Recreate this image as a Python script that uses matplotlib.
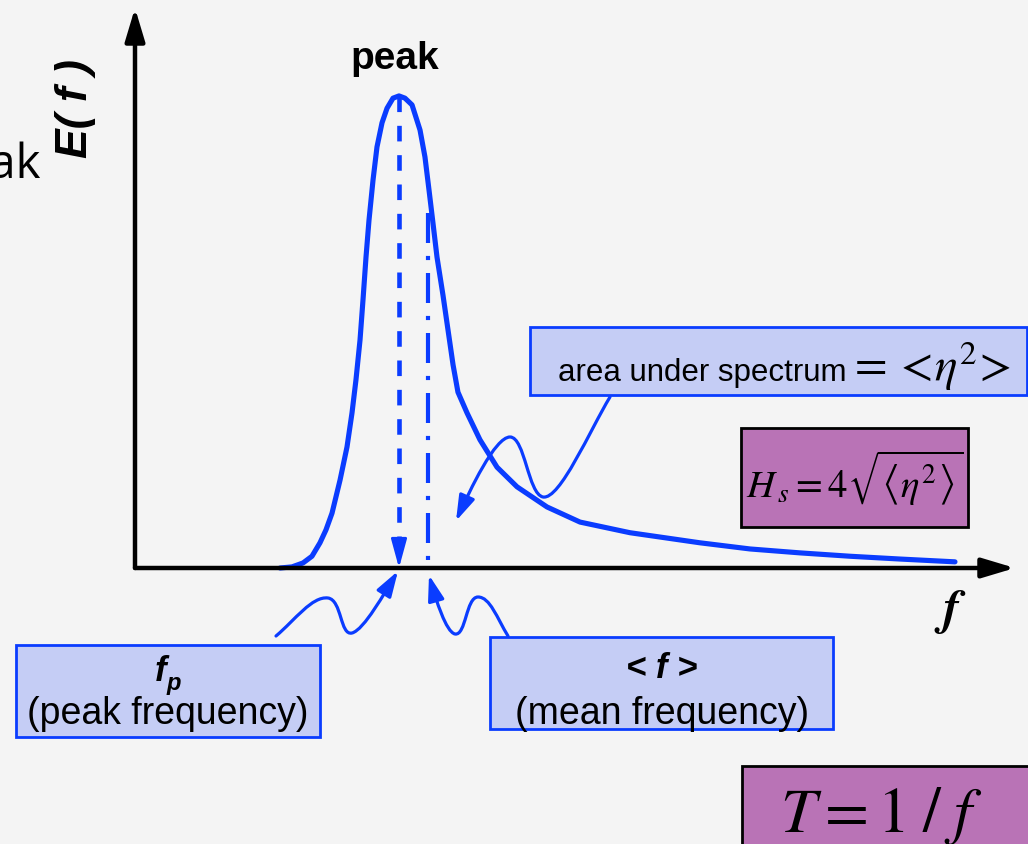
import matplotlib
matplotlib.use('Agg')
import matplotlib.pyplot as plt
from matplotlib.patches import Rectangle, FancyArrowPatch
from matplotlib.path import Path
import numpy as np

plt.rcParams['mathtext.fontset'] = 'stix'

# ---- data (spectrum) ----
freq = [1.648, 1.784, 1.909, 2.011, 2.102, 2.170, 2.239, 2.330, 2.409, 2.466,
        2.511, 2.557, 2.591, 2.625, 2.659, 2.705, 2.750, 2.807, 2.864, 2.932,
        3.000, 3.068, 3.148, 3.239, 3.295, 3.341, 3.386, 3.432, 3.500, 3.557,
        3.614, 3.670, 3.773, 3.920, 4.114, 4.341, 4.682, 5.057, 5.625, 6.420,
        6.989, 7.557, 8.125, 8.693, 9.318]
energy = [0.000, 0.002, 0.009, 0.021, 0.045, 0.068, 0.098, 0.157, 0.216, 0.277,
          0.336, 0.407, 0.479, 0.555, 0.621, 0.693, 0.752, 0.795, 0.821, 0.839,
          0.843, 0.839, 0.827, 0.782, 0.734, 0.675, 0.616, 0.555, 0.487, 0.425,
          0.363, 0.314, 0.277, 0.229, 0.180, 0.145, 0.109, 0.082, 0.063, 0.045,
          0.034, 0.027, 0.021, 0.016, 0.011]
f_mean = 3.33
f_mean_top = 0.634
f_mean_bottom = 0.014

imax = int(np.argmax(energy))
f_peak = freq[imax]
e_peak = energy[imax]

BLUE = '#0a3cff'
BOX = '#c5cdf5'
PURPLE = '#b973b6'
BG = '#f4f4f4'

W, H = 1028, 844
fig = plt.figure(figsize=(W / 100, H / 100), dpi=100, facecolor=BG)


def px_rect(x0, y0, x1, y1):
    return [x0 / W, 1 - y1 / H, (x1 - x0) / W, (y1 - y0) / H]


# ---- main spectrum axes ----
ax = fig.add_axes(px_rect(135, 8, 1015, 568))
ax.set_xlim(0, 10)
ax.set_ylim(0, 1)
ax.axis('off')

ax.plot(freq, energy, color=BLUE, lw=3.7, solid_joinstyle='round',
        solid_capstyle='round', zorder=3, clip_on=False)

# axes arrows
for xy in [(1, 0), (0, 1)]:
    ax.annotate('', xy=xy, xytext=(0, 0), xycoords='axes fraction',
                textcoords='axes fraction', annotation_clip=False,
                arrowprops=dict(arrowstyle='-|>,head_length=1.0,head_width=0.3',
                                lw=3.2, color='black', mutation_scale=20,
                                shrinkA=0, shrinkB=0))

# peak-frequency dashed line with arrow
ax.plot([f_peak, f_peak], [e_peak, 0.045], color=BLUE, lw=3.3,
        dashes=(3.4, 3.0), zorder=2)
ax.annotate('', xy=(f_peak, 0), xytext=(f_peak, 0.045),
            arrowprops=dict(arrowstyle='-|>,head_length=1.1,head_width=0.3',
                            lw=2, color=BLUE, mutation_scale=16,
                            shrinkA=0, shrinkB=0))

# mean-frequency dash-dot line
ax.plot([f_mean, f_mean], [f_mean_top, f_mean_bottom], color=BLUE, lw=3,
        dashes=(7.2, 3.1, 1, 3.1), zorder=2)

# ---- overlay in pixel space for annotations ----
ov = fig.add_axes([0, 0, 1, 1])
ov.set_xlim(0, W)
ov.set_ylim(H, 0)
ov.axis('off')


def squiggle(verts):
    codes = [Path.MOVETO] + [Path.CURVE4] * (len(verts) - 1)
    p = FancyArrowPatch(path=Path(verts, codes),
                        arrowstyle='-|>,head_length=1.1,head_width=0.35',
                        mutation_scale=14, color=BLUE, lw=2.3)
    ov.add_patch(p)


squiggle([(276, 636), (295, 620), (312, 596), (328, 598),
          (342, 600), (340, 636), (352, 633),
          (364, 630), (385, 592), (398, 571)])
squiggle([(508, 636), (497, 618), (490, 597), (478, 597),
          (466, 597), (466, 636), (455, 634),
          (446, 632), (436, 600), (429, 575)])
squiggle([(610, 397), (590, 430), (560, 500), (543, 497),
          (528, 494), (525, 437), (510, 437),
          (495, 437), (470, 490), (456, 521)])

# boxes
ov.add_patch(Rectangle((530, 327), 497, 68, fc=BOX, ec=BLUE, lw=2))
ov.add_patch(Rectangle((741, 428), 227, 99, fc=PURPLE, ec='black', lw=2))
ov.add_patch(Rectangle((16, 645), 304, 92, fc=BOX, ec=BLUE, lw=2))
ov.add_patch(Rectangle((490, 637), 343, 92, fc=BOX, ec=BLUE, lw=2))
ov.add_patch(Rectangle((742, 766), 290, 90, fc=PURPLE, ec='black', lw=2,
                       clip_on=False))

SANS = 'Liberation Sans'

# texts
ov.text(395, 69, 'peak', ha='center', va='baseline', fontsize=28,
        fontweight='bold', family=SANS)
ov.text(40, 178, 'peak', ha='right', va='baseline', fontsize=34,
        family='Open Sans')
ov.text(75, 108, 'E( f )', rotation=90, ha='center', va='center', fontsize=32,
        fontweight='bold', fontstyle='italic', family=SANS)
ov.text(950, 612, r'$\mathbfit{f}$', ha='center', va='center', fontsize=36)

ov.text(558, 381, 'area under spectrum', ha='left', va='baseline',
        fontsize=22.5, family=SANS)
ov.text(848, 381, r'$= <\!\eta^{2}\!>$', ha='left', va='baseline',
        fontsize=34)

ov.text(855, 478, r'$H_{\,s} = 4\sqrt{\left\langle\eta^{2}\right\rangle}$',
        ha='center', va='center', fontsize=28)

ov.text(155, 681, 'f', ha='left', va='baseline', fontsize=25,
        fontweight='bold', fontstyle='italic', family=SANS)
ov.text(167, 690, 'p', ha='left', va='baseline', fontsize=17,
        fontweight='bold', fontstyle='italic', family=SANS)
ov.text(168, 724, '(peak frequency)', ha='center', va='baseline',
        fontsize=27, family=SANS)

ov.text(662, 678, '< f >', ha='center', va='baseline', fontsize=25,
        fontweight='bold', fontstyle='italic', family=SANS)
ov.text(662, 724, '(mean frequency)', ha='center', va='baseline',
        fontsize=27, family=SANS)

ov.text(780, 832, r'$T = 1\;/\;f$', ha='left', va='baseline', fontsize=46)

fig.savefig('out.png', dpi=100, facecolor=BG)
